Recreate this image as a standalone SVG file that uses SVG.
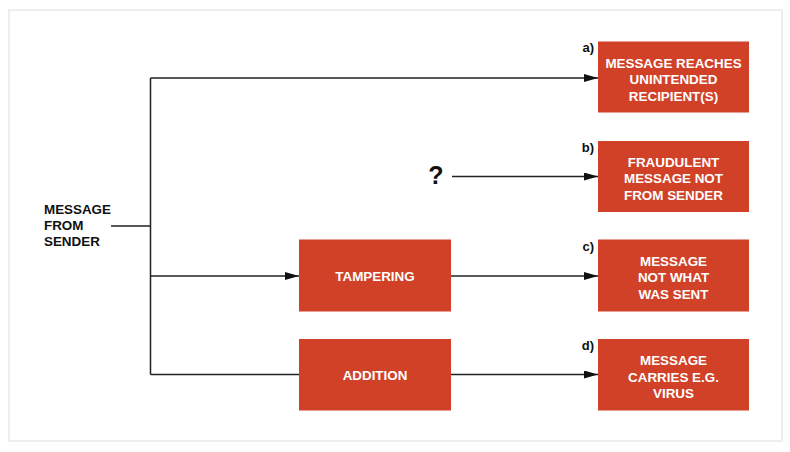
<svg xmlns="http://www.w3.org/2000/svg" width="790" height="452" viewBox="0 0 790 452">
<defs>
<marker id="ah" viewBox="0 0 14 8" refX="14" refY="4" markerWidth="14" markerHeight="8" markerUnits="userSpaceOnUse" orient="auto"><path d="M0,0 L14,4 L0,8 Z" fill="#111"/></marker>
<style>
.box{fill:#d14128;}
.bt{font-family:"Liberation Sans",Arial,sans-serif;font-weight:bold;font-size:13.4px;fill:#fff;text-anchor:middle;}
.lt{font-family:"Liberation Sans",Arial,sans-serif;font-weight:bold;font-size:13.4px;fill:#111;}
.lab{font-family:"Liberation Sans",Arial,sans-serif;font-weight:bold;font-size:13px;fill:#111;text-anchor:end;}
.ln{fill:none;stroke:#222;stroke-width:1.5;}
.arr{marker-end:url(#ah);}
</style>
</defs>
<rect x="0" y="0" width="790" height="452" fill="#fff"/>
<rect x="9" y="10" width="773" height="431" fill="#fff" stroke="#eeeeee" stroke-width="2"/>
<g id="connectors">
<path class="ln" d="M111,226 H150.5"/>
<path class="ln" d="M150.5,78 V374.5"/>
<path class="ln arr" d="M150.5,78 H598"/>
<path class="ln arr" d="M452,176.5 H598"/>
<path class="ln arr" d="M150.5,276 H299"/>
<path class="ln arr" d="M451,276 H598"/>
<path class="ln" d="M150.5,374.5 H299"/>
<path class="ln arr" d="M451,374.5 H598"/>
</g>
<g id="sender">
<text class="lt" x="44" y="214">MESSAGE</text>
<text class="lt" x="44" y="230">FROM</text>
<text class="lt" x="44" y="246">SENDER</text>
</g>
<g id="question">
<text x="436" y="184" font-family="Liberation Sans,Arial,sans-serif" font-weight="bold" font-size="25" fill="#111" text-anchor="middle">?</text>
</g>
<g id="tampering">
<rect class="box" x="299" y="239.5" width="152" height="72"/>
<text class="bt" x="375" y="281">TAMPERING</text>
</g>
<g id="addition">
<rect class="box" x="299" y="339" width="152" height="71.5"/>
<text class="bt" x="375" y="380">ADDITION</text>
</g>
<g id="a">
<text class="lab" x="594" y="52">a)</text>
<rect class="box" x="598" y="41.5" width="151" height="71"/>
<text class="bt" x="673.5" y="67.5">MESSAGE REACHES</text>
<text class="bt" x="673.5" y="84">UNINTENDED</text>
<text class="bt" x="673.5" y="100.5">RECIPIENT(S)</text>
</g>
<g id="b">
<text class="lab" x="594" y="151.5">b)</text>
<rect class="box" x="598" y="141" width="151" height="71"/>
<text class="bt" x="673.5" y="166.5">FRAUDULENT</text>
<text class="bt" x="673.5" y="183">MESSAGE NOT</text>
<text class="bt" x="673.5" y="199.5">FROM SENDER</text>
</g>
<g id="c">
<text class="lab" x="594" y="250.5">c)</text>
<rect class="box" x="598" y="239.5" width="151" height="72"/>
<text class="bt" x="673.5" y="265.5">MESSAGE</text>
<text class="bt" x="673.5" y="282">NOT WHAT</text>
<text class="bt" x="673.5" y="298.5">WAS SENT</text>
</g>
<g id="d">
<text class="lab" x="594" y="350">d)</text>
<rect class="box" x="598" y="339" width="151" height="71.5"/>
<text class="bt" x="673.5" y="365">MESSAGE</text>
<text class="bt" x="673.5" y="381.5">CARRIES E.G.</text>
<text class="bt" x="673.5" y="398">VIRUS</text>
</g>
</svg>
